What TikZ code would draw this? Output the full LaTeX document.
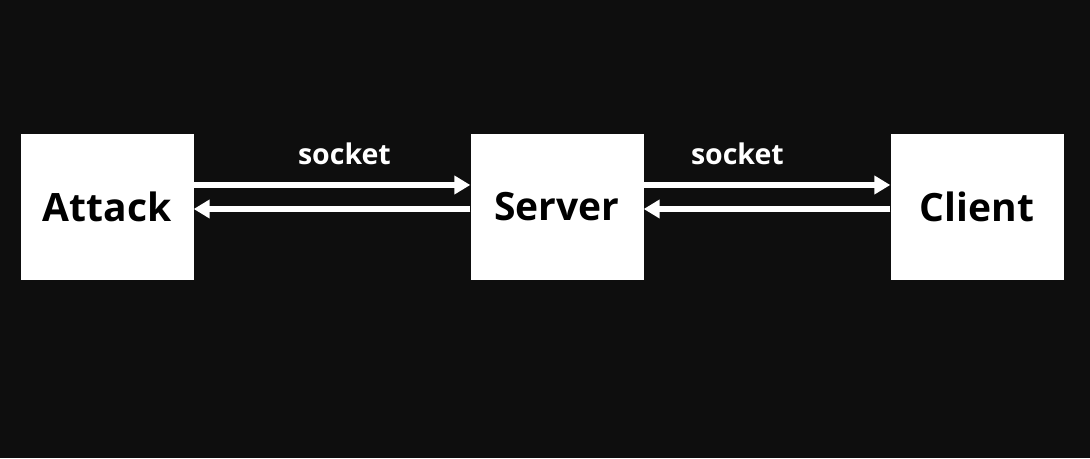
\documentclass[tikz,border=0pt]{standalone}
\usepackage{fontspec}
\setmainfont{Open Sans}
\usepackage{tikz}
\usetikzlibrary{arrows.meta}
\definecolor{bgdark}{HTML}{0E0E0E}

\begin{document}
\begin{tikzpicture}[x=1pt,y=1pt,
  box/.style={fill=white, minimum width=173pt, minimum height=146pt, inner sep=0pt,
    font=\fontsize{39}{39}\selectfont\bfseries, text=black},
  link/.style={white, line width=5.5pt, -{Triangle[length=16pt,width=18pt]}},
  lbl/.style={white, font=\fontsize{28.5}{28.5}\selectfont\bfseries, anchor=base}]
  \fill[bgdark] (0,0) rectangle (1090,458);
  \useasboundingbox (0,0) rectangle (1090,458);
  % boxes
  \node[box] (attack) at (107,251) {Attack};
  \node[box] (server) at (557,251) {Server};
  \node[box] (client) at (977,251) {Client};
  % sockets
  \draw[link] ([yshift=22pt]attack.east) -- ([yshift=22pt]server.west)
    node[lbl, pos=0.545, yshift=20pt] {socket};
  \draw[link] ([yshift=-2pt]server.west) -- ([yshift=-2pt]attack.east);
  \draw[link] ([yshift=22pt]server.east) -- ([yshift=22pt]client.west)
    node[lbl, pos=0.38, yshift=20pt] {socket};
  \draw[link] ([yshift=-2pt]client.west) -- ([yshift=-2pt]server.east);
\end{tikzpicture}
\end{document}
